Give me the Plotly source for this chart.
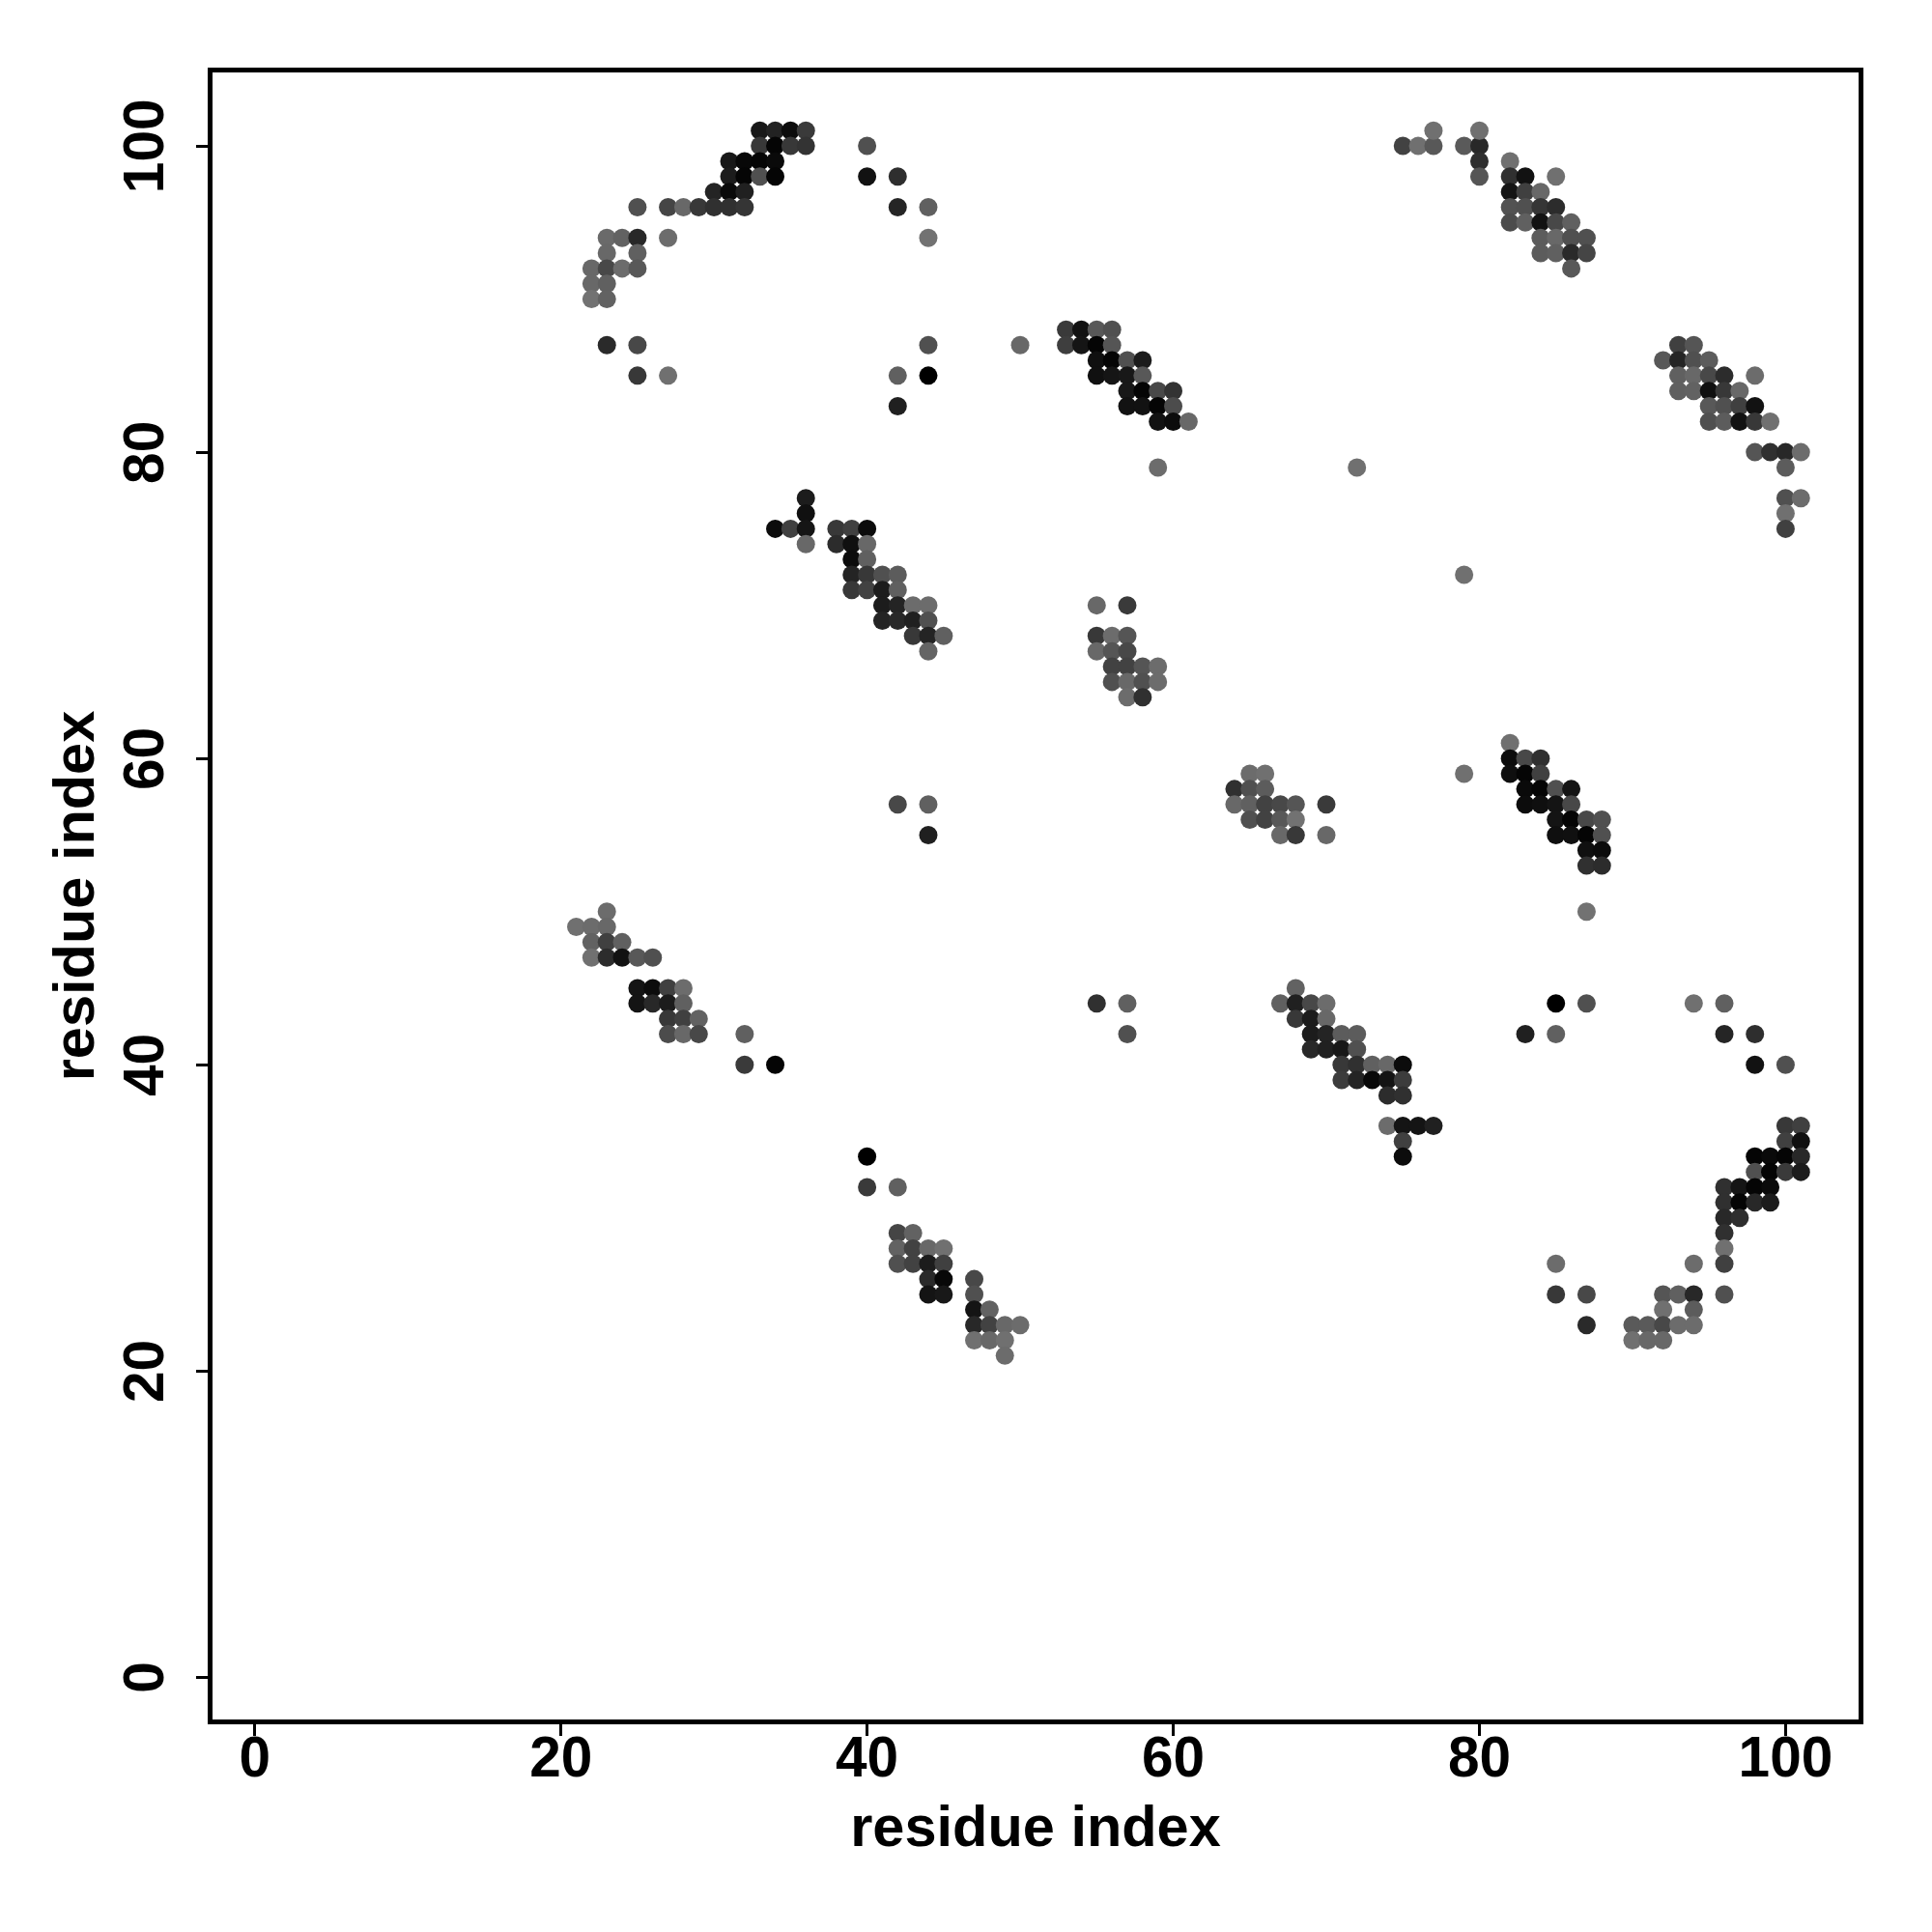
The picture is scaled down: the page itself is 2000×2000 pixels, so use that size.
import plotly.graph_objects as go

tick_values = [0, 20, 40, 60, 80, 100]
axis_label = "residue index"

# one source line per row of the map (same order in all three lists)
residue_x = [
    33, 34, 35, 36,
    33, 34, 35, 36, 40, 75, 76, 77, 79, 80,
    77, 80,
    31, 32, 33, 34, 80, 82,
    31, 32, 33, 34, 40, 42, 80, 82, 83, 85,
    30, 31, 32, 82, 83, 84,
    25, 27, 28, 29, 30, 31, 32, 42, 44, 82, 83, 84, 85,
    82, 83, 84, 85, 86,
    23, 24, 25, 27, 44, 84, 85, 86, 87,
    23, 25, 84, 85, 86, 87,
    22, 23, 24, 25, 86,
    22, 23,
    22, 23,
    53, 54, 55, 56,
    23, 25, 44, 50, 53, 54, 55, 56, 93, 94,
    55, 56, 57, 58, 92, 93, 94, 95,
    25, 27, 42, 44, 55, 56, 57, 58, 93, 94, 95, 96, 98,
    57, 58, 59, 60, 93, 94, 95, 96, 97,
    42, 57, 58, 59, 60, 95, 96, 97, 98,
    59, 60, 61, 95, 96, 97, 98, 99,
    98, 99, 100, 101,
    59, 72, 100,
    36, 100, 101,
    36, 100,
    34, 35, 36, 38, 39, 40, 100,
    36, 38, 39, 40,
    39, 40,
    39, 40, 41, 42, 79,
    39, 40, 41, 42,
    41, 42, 43, 44, 55, 57,
    41, 42, 43, 44,
    43, 44, 45, 55, 56, 57,
    44, 55, 56, 57,
    56, 57, 58, 59,
    56, 57, 58, 59,
    57, 58,
    82,
    82, 83, 84,
    65, 66, 79, 82, 83, 84,
    64, 65, 66, 83, 84, 85, 86,
    42, 44, 64, 65, 66, 67, 68, 70, 83, 84, 85, 86,
    65, 66, 67, 68, 85, 86, 87, 88,
    44, 67, 68, 70, 85, 86, 87, 88,
    87, 88,
    87, 88,
    23, 87,
    21, 22, 23,
    22, 23, 24,
    22, 23, 24, 25, 26,
    25, 26, 27, 28, 68,
    25, 26, 27, 28, 55, 57, 67, 68, 69, 70, 85, 87, 94, 96,
    27, 28, 29, 68, 69, 70,
    27, 28, 29, 32, 57, 69, 70, 71, 72, 83, 85, 96, 98,
    69, 70, 71, 72,
    32, 34, 71, 72, 73, 74, 75, 98, 100,
    71, 72, 73, 74, 75,
    74, 75,
    74, 75, 76, 77, 100, 101,
    75, 100, 101,
    40, 75, 98, 99, 100, 101,
    98, 99, 100, 101,
    40, 42, 96, 97, 98, 99,
    96, 97, 98, 99,
    96, 97,
    42, 43, 96,
    42, 43, 44, 45, 96,
    42, 43, 44, 45, 85, 94, 96,
    44, 45, 47,
    44, 45, 47, 85, 87, 92, 93, 94, 96,
    47, 48, 92, 94,
    47, 48, 49, 50, 87, 90, 91, 92, 93, 94,
    47, 48, 49, 90, 91, 92,
    49,
]
residue_y = [
    101, 101, 101, 101,
    100, 100, 100, 100, 100, 100, 100, 100, 100, 100,
    101, 101,
    99, 99, 99, 99, 99, 99,
    98, 98, 98, 98, 98, 98, 98, 98, 98, 98,
    97, 97, 97, 97, 97, 97,
    96, 96, 96, 96, 96, 96, 96, 96, 96, 96, 96, 96, 96,
    95, 95, 95, 95, 95,
    94, 94, 94, 94, 94, 94, 94, 94, 94,
    93, 93, 93, 93, 93, 93,
    92, 92, 92, 92, 92,
    91, 91,
    90, 90,
    88, 88, 88, 88,
    87, 87, 87, 87, 87, 87, 87, 87, 87, 87,
    86, 86, 86, 86, 86, 86, 86, 86,
    85, 85, 85, 85, 85, 85, 85, 85, 85, 85, 85, 85, 85,
    84, 84, 84, 84, 84, 84, 84, 84, 84,
    83, 83, 83, 83, 83, 83, 83, 83, 83,
    82, 82, 82, 82, 82, 82, 82, 82,
    80, 80, 80, 80,
    79, 79, 79,
    77, 77, 77,
    76, 76,
    75, 75, 75, 75, 75, 75, 75,
    74, 74, 74, 74,
    73, 73,
    72, 72, 72, 72, 72,
    71, 71, 71, 71,
    70, 70, 70, 70, 70, 70,
    69, 69, 69, 69,
    68, 68, 68, 68, 68, 68,
    67, 67, 67, 67,
    66, 66, 66, 66,
    65, 65, 65, 65,
    64, 64,
    61,
    60, 60, 60,
    59, 59, 59, 59, 59, 59,
    58, 58, 58, 58, 58, 58, 58,
    57, 57, 57, 57, 57, 57, 57, 57, 57, 57, 57, 57,
    56, 56, 56, 56, 56, 56, 56, 56,
    55, 55, 55, 55, 55, 55, 55, 55,
    54, 54,
    53, 53,
    50, 50,
    49, 49, 49,
    48, 48, 48,
    47, 47, 47, 47, 47,
    45, 45, 45, 45, 45,
    44, 44, 44, 44, 44, 44, 44, 44, 44, 44, 44, 44, 44, 44,
    43, 43, 43, 43, 43, 43,
    42, 42, 42, 42, 42, 42, 42, 42, 42, 42, 42, 42, 42,
    41, 41, 41, 41,
    40, 40, 40, 40, 40, 40, 40, 40, 40,
    39, 39, 39, 39, 39,
    38, 38,
    36, 36, 36, 36, 36, 36,
    35, 35, 35,
    34, 34, 34, 34, 34, 34,
    33, 33, 33, 33,
    32, 32, 32, 32, 32, 32,
    31, 31, 31, 31,
    30, 30,
    29, 29, 29,
    28, 28, 28, 28, 28,
    27, 27, 27, 27, 27, 27, 27,
    26, 26, 26,
    25, 25, 25, 25, 25, 25, 25, 25, 25,
    24, 24, 24, 24,
    23, 23, 23, 23, 23, 23, 23, 23, 23, 23,
    22, 22, 22, 22, 22, 22,
    21,
]
shade = [
    0x18, 0x22, 0x0c, 0x3a,
    0x38, 0x05, 0x38, 0x33, 0x50, 0x42, 0x70, 0x58, 0x5a, 0x28,
    0x70, 0x70,
    0x18, 0x08, 0x05, 0x0a, 0x2e, 0x70,
    0x1c, 0x05, 0x50, 0x05, 0x12, 0x2e, 0x55, 0x30, 0x12, 0x70,
    0x24, 0x0a, 0x20, 0x15, 0x40, 0x68,
    0x50, 0x45, 0x68, 0x38, 0x30, 0x30, 0x35, 0x25, 0x60, 0x52, 0x50, 0x35, 0x2c,
    0x4c, 0x60, 0x12, 0x48, 0x60,
    0x6a, 0x62, 0x28, 0x6c, 0x72, 0x5c, 0x68, 0x50, 0x50,
    0x68, 0x60, 0x5c, 0x60, 0x2a, 0x45,
    0x68, 0x48, 0x6c, 0x58, 0x58,
    0x68, 0x60,
    0x72, 0x62,
    0x3a, 0x12, 0x58, 0x50,
    0x2a, 0x48, 0x50, 0x68, 0x3e, 0x15, 0x05, 0x55, 0x40, 0x55,
    0x10, 0x05, 0x50, 0x1c, 0x58, 0x25, 0x50, 0x5c,
    0x38, 0x70, 0x60, 0x00, 0x10, 0x15, 0x18, 0x58, 0x60, 0x68, 0x48, 0x2c, 0x6c,
    0x18, 0x05, 0x48, 0x33, 0x60, 0x62, 0x10, 0x38, 0x68,
    0x20, 0x12, 0x12, 0x05, 0x4c, 0x58, 0x50, 0x40, 0x12,
    0x12, 0x0c, 0x68, 0x50, 0x5c, 0x12, 0x38, 0x70,
    0x55, 0x30, 0x28, 0x6c,
    0x6c, 0x70, 0x5c,
    0x1c, 0x50, 0x6c,
    0x10, 0x70,
    0x0c, 0x40, 0x15, 0x38, 0x40, 0x0c, 0x40,
    0x68, 0x2c, 0x10, 0x68,
    0x0c, 0x60,
    0x24, 0x38, 0x50, 0x5c, 0x70,
    0x38, 0x42, 0x1c, 0x60,
    0x1c, 0x24, 0x6c, 0x6c, 0x68, 0x3a,
    0x24, 0x28, 0x20, 0x50,
    0x38, 0x24, 0x60, 0x38, 0x6c, 0x55,
    0x64, 0x68, 0x55, 0x48,
    0x42, 0x42, 0x55, 0x6c,
    0x50, 0x68, 0x50, 0x6c,
    0x6c, 0x30,
    0x70,
    0x0c, 0x48, 0x30,
    0x6c, 0x70, 0x70, 0x0f, 0x05, 0x40,
    0x30, 0x50, 0x5c, 0x0a, 0x05, 0x50, 0x15,
    0x48, 0x60, 0x68, 0x60, 0x42, 0x48, 0x55, 0x3a, 0x0c, 0x0f, 0x14, 0x48,
    0x50, 0x42, 0x58, 0x72, 0x14, 0x05, 0x48, 0x50,
    0x20, 0x68, 0x38, 0x68, 0x0f, 0x10, 0x05, 0x50,
    0x10, 0x0c,
    0x30, 0x2c,
    0x6c, 0x72,
    0x70, 0x6c, 0x68,
    0x62, 0x40, 0x60,
    0x70, 0x2c, 0x12, 0x58, 0x50,
    0x14, 0x0c, 0x40, 0x6c, 0x62,
    0x14, 0x28, 0x1c, 0x60, 0x30, 0x60, 0x60, 0x20, 0x48, 0x6c, 0x00, 0x50, 0x70, 0x60,
    0x38, 0x40, 0x62, 0x38, 0x1c, 0x68,
    0x4c, 0x68, 0x48, 0x60, 0x50, 0x1c, 0x24, 0x5c, 0x5c, 0x20, 0x60, 0x25, 0x2e,
    0x28, 0x20, 0x18, 0x50,
    0x3a, 0x05, 0x38, 0x30, 0x60, 0x68, 0x0c, 0x12, 0x50,
    0x3c, 0x24, 0x08, 0x14, 0x3c,
    0x2c, 0x30,
    0x6c, 0x14, 0x14, 0x20, 0x38, 0x40,
    0x40, 0x40, 0x10,
    0x00, 0x0c, 0x05, 0x0a, 0x05, 0x28,
    0x50, 0x05, 0x3a, 0x1c,
    0x3a, 0x60, 0x30, 0x15, 0x05, 0x0a,
    0x30, 0x05, 0x28, 0x1c,
    0x28, 0x2e,
    0x45, 0x62, 0x30,
    0x62, 0x42, 0x68, 0x70, 0x70,
    0x50, 0x42, 0x1c, 0x40, 0x6c, 0x6c, 0x40,
    0x2a, 0x08, 0x48,
    0x14, 0x18, 0x50, 0x38, 0x48, 0x55, 0x60, 0x28, 0x50,
    0x14, 0x62, 0x70, 0x5c,
    0x28, 0x42, 0x68, 0x6c, 0x2a, 0x5a, 0x5a, 0x48, 0x6c, 0x6c,
    0x70, 0x68, 0x70, 0x70, 0x68, 0x68,
    0x6c,
]

colors = [f"rgb({s},{s},{s})" for s in shade]

fig = go.Figure(
    go.Scatter(
        x=residue_x,
        y=residue_y,
        mode="markers",
        marker=dict(size=19, color=colors, line=dict(width=0)),
        hoverinfo="skip",
    )
)

axis_style = dict(
    tickvals=tick_values,
    ticktext=[str(t) for t in tick_values],
    ticks="outside",
    ticklen=12,
    tickwidth=3,
    tickcolor="black",
    showgrid=False,
    zeroline=False,
    showline=True,
    mirror=True,
    linecolor="black",
    linewidth=5,
    automargin=False,
    tickfont=dict(family="Liberation Sans", size=58.5, color="black", weight="bold"),
)
title_font = dict(family="Liberation Sans", size=59.5, color="black", weight="bold")

fig.update_layout(
    width=2000,
    height=2000,
    margin=dict(l=219.5, r=75.5, t=75, b=219.5, pad=0),
    paper_bgcolor="white",
    plot_bgcolor="white",
    showlegend=False,
    xaxis=dict(
        axis_style,
        range=[-2.76, 104.77],
        ticklabelstandoff=-28,
        title=dict(text=axis_label, font=title_font, standoff=21),
    ),
    yaxis=dict(
        axis_style,
        range=[-2.76, 104.80],
        tickangle=-90,
        ticklabelstandoff=11,
        ticklabelshift=9,
        title=dict(text=axis_label, font=title_font, standoff=0),
    ),
)

fig.write_html(
    "out.html",
    config={"displayModeBar": False},
    post_script="document.body.style.margin='0';",
)
